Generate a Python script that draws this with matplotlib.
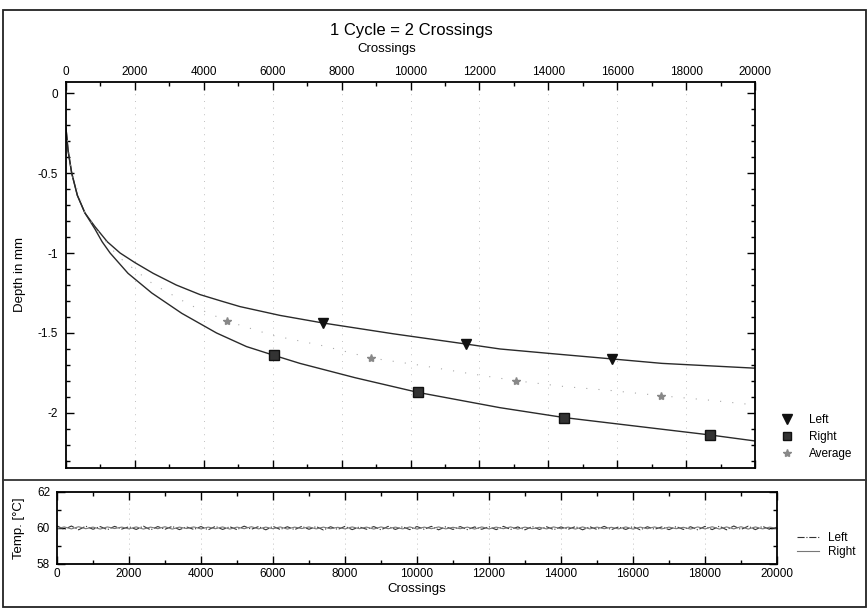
import matplotlib
matplotlib.use("Agg")
import matplotlib.pyplot as plt
from matplotlib.lines import Line2D
from matplotlib.patches import Rectangle
from matplotlib.ticker import MultipleLocator, FuncFormatter

plt.rcParams['font.family'] = ['Liberation Sans', 'DejaVu Sans']
plt.rcParams['axes.unicode_minus'] = False

# ---------------- data ----------------
title_text = "1 Cycle = 2 Crossings"

left_x = [0, 60, 165, 330, 550, 840, 1200, 1570, 2000, 2530, 3200, 3890, 4500,
          5050, 6210, 7460, 9500, 11610, 12600, 14150, 15840, 17300, 20000]
left_y = [-0.22, -0.36, -0.50, -0.64, -0.75, -0.835, -0.93, -1.00, -1.06, -1.127,
          -1.20, -1.26, -1.30, -1.335, -1.39, -1.4375, -1.505, -1.569, -1.60,
          -1.63, -1.662, -1.69, -1.72]

right_x = [0, 60, 165, 330, 550, 840, 1050, 1280, 1800, 2490, 3360, 4370, 5240,
           6040, 6790, 8400, 10230, 12600, 14470, 16260, 18680, 20000]
right_y = [-0.22, -0.36, -0.50, -0.64, -0.75, -0.85, -0.93, -1.00, -1.127, -1.25,
           -1.377, -1.50, -1.585, -1.64, -1.69, -1.78, -1.872, -1.967, -2.029,
           -2.075, -2.137, -2.175]

avg_x = [0, 165, 550, 840, 1500, 2500, 3600, 4665, 6000, 7460, 8845, 10230,
         11610, 13050, 14470, 15840, 17260, 18680, 20000]
avg_y = [-0.22, -0.50, -0.75, -0.84, -1.02, -1.19, -1.325, -1.425, -1.515,
         -1.58, -1.656, -1.70, -1.75, -1.798, -1.835, -1.86, -1.892, -1.92, -1.95]

left_mark_x = [7460, 11610, 15840]
left_mark_y = [-1.4375, -1.569, -1.662]
right_mark_x = [6040, 10230, 14470, 18680]
right_mark_y = [-1.64, -1.872, -2.029, -2.137]
avg_mark_x = [4665, 8845, 13050, 17260]
avg_mark_y = [-1.425, -1.656, -1.798, -1.892]

temp_x = list(range(0, 20001, 200))
temp_left = [60.12, 59.92, 60.11, 59.90, 60.10, 59.93, 60.08, 59.91, 60.09, 59.94,
             60.07, 59.92, 60.10, 59.90, 60.08, 59.93, 60.09, 59.91, 60.06, 59.92,
             60.08, 59.90, 60.09, 59.92, 60.07, 59.91, 60.10, 59.93, 60.08, 59.90,
             60.09, 59.92, 60.07, 59.91, 60.09, 59.93, 60.08, 59.89, 60.07, 59.92,
             60.09, 59.91, 60.06, 59.93, 60.08, 59.90, 60.09, 59.92, 60.07, 59.91,
             60.08, 59.93, 60.09, 59.90, 60.07, 59.92, 60.08, 59.91, 60.06, 59.93,
             60.07, 59.91, 60.09, 59.92, 60.06, 59.90, 60.08, 59.92, 60.07, 59.91,
             60.06, 59.93, 60.08, 59.90, 60.07, 59.92, 60.09, 59.91, 60.06, 59.92,
             60.08, 59.90, 60.07, 59.93, 60.06, 59.91, 60.08, 59.92, 60.07, 59.90,
             60.09, 59.91, 60.10, 59.90, 60.11, 59.92, 60.10, 59.91, 60.09, 59.92,
             60.05]
temp_right = [59.96, 60.06, 59.95, 60.07, 59.96, 60.05, 59.94, 60.06, 59.97, 60.05,
              59.95, 60.06, 59.94, 60.05, 59.96, 60.07, 59.94, 60.05, 59.97, 60.06,
              59.95, 60.05, 59.96, 60.06, 59.94, 60.05, 59.96, 60.07, 59.95, 60.05,
              59.96, 60.06, 59.94, 60.05, 59.97, 60.06, 59.95, 60.05, 59.96, 60.04,
              59.95, 60.06, 59.96, 60.05, 59.94, 60.06, 59.96, 60.05, 59.95, 60.06,
              59.94, 60.05, 59.96, 60.06, 59.95, 60.04, 59.96, 60.05, 59.94, 60.06,
              59.95, 60.05, 59.96, 60.06, 59.94, 60.05, 59.96, 60.04, 59.95, 60.06,
              59.96, 60.05, 59.94, 60.06, 59.95, 60.05, 59.96, 60.04, 59.95, 60.06,
              59.94, 60.05, 59.96, 60.06, 59.95, 60.05, 59.96, 60.04, 59.94, 60.06,
              59.95, 60.07, 59.94, 60.06, 59.95, 60.07, 59.94, 60.06, 59.95, 60.05,
              59.98]

# ---------------- figure ----------------
W, H = 868, 610
fig = plt.figure(figsize=(W / 100, H / 100), dpi=100)


def fx(px):
    return px / W


def fy(py):
    return 1 - py / H


# outer frames
fig.add_artist(Rectangle((fx(3), fy(607)), fx(866) - fx(3), fy(10) - fy(607),
                         transform=fig.transFigure, fill=False, lw=1.3, ec='#222222'))
fig.add_artist(Line2D([fx(3), fx(866)], [fy(480), fy(480)], transform=fig.transFigure,
                      lw=1.3, color='#333333'))

fig.text(fx(411), fy(30), title_text, ha='center', va='center', fontsize=12)

# ---------------- main axes ----------------
ax = fig.add_axes([fx(66), fy(468), fx(755) - fx(66), fy(82) - fy(468)])
ax.plot(left_x, left_y, color='#2a2a2a', lw=1.0)
ax.plot(right_x, right_y, color='#2a2a2a', lw=1.0)
ax.plot(avg_x, avg_y, color='#aaaaaa', lw=0.8, linestyle=(0, (1, 10)))
ax.plot(left_mark_x, left_mark_y, linestyle='none', marker='v', ms=7, color='#111111')
ax.plot(right_mark_x, right_mark_y, linestyle='none', marker='s', ms=7,
        mfc='#333333', mec='#111111')
ax.plot(avg_mark_x, avg_mark_y, linestyle='none', marker='*', ms=6, color='#888888')

ax.set_xlim(0, 20000)
ax.set_ylim(-2.344, 0.069)
ax.xaxis.set_major_locator(MultipleLocator(2000))
ax.xaxis.set_minor_locator(MultipleLocator(1000))
ax.yaxis.set_major_locator(MultipleLocator(0.5))
ax.yaxis.set_minor_locator(MultipleLocator(0.1))
ax.yaxis.set_major_formatter(FuncFormatter(lambda v, p: '%g' % v if abs(v) > 1e-9 else '0'))
ax.tick_params(axis='x', which='both', direction='in', top=True, bottom=True,
               labeltop=True, labelbottom=False, labelsize=8.5, pad=3)
ax.tick_params(axis='y', which='both', direction='in', left=True, right=True,
               labelsize=8.5, pad=6)
ax.tick_params(which='major', length=6, width=1)
ax.tick_params(which='minor', length=3, width=1)
ax.xaxis.set_label_position('top')
ax.set_xlabel('Crossings', fontsize=9.5)
ax.xaxis.set_label_coords(0.466, 1.0 + 30 / 386)
ax.set_ylabel('Depth in mm', fontsize=9.5)
ax.yaxis.set_label_coords(-40 / 689, 0.5)
ax.grid(axis='x', which='major', color='#aaaaaa', lw=0.6, linestyle=(0, (1, 7)))
for s in ax.spines.values():
    s.set_linewidth(1.3)

h_main = [Line2D([], [], linestyle='none', marker='v', ms=7, color='#111111'),
          Line2D([], [], linestyle='none', marker='s', ms=6, mfc='#333333', mec='#111111'),
          Line2D([], [], linestyle='none', marker='*', ms=6, color='#888888')]
fig.legend(h_main, ['Left', 'Right', 'Average'], loc='center left',
           bbox_to_anchor=(fx(781), fy(437)), bbox_transform=fig.transFigure,
           frameon=False, fontsize=8.5, handlelength=1.0, handletextpad=1.4,
           labelspacing=0.45, borderpad=0, borderaxespad=0)

# ---------------- temperature axes ----------------
ax2 = fig.add_axes([fx(57), fy(564), fx(777) - fx(57), fy(492) - fy(564)])
ax2.plot(temp_x, temp_left, color='#333333', lw=0.8, linestyle='-.')
ax2.plot(temp_x, temp_right, color='#777777', lw=0.8)
ax2.set_xlim(0, 20000)
ax2.set_ylim(58, 62)
ax2.xaxis.set_major_locator(MultipleLocator(2000))
ax2.xaxis.set_minor_locator(MultipleLocator(1000))
ax2.yaxis.set_major_locator(MultipleLocator(2))
ax2.yaxis.set_minor_locator(MultipleLocator(1))
ax2.tick_params(which='both', direction='in', top=True, right=True, labelsize=8.5)
ax2.tick_params(axis='x', pad=3)
ax2.tick_params(axis='y', pad=5)
ax2.tick_params(which='major', length=6, width=1)
ax2.tick_params(which='minor', length=3, width=1)
ax2.set_xlabel('Crossings', fontsize=9.5, labelpad=2)
ax2.set_ylabel('Temp. [°C]', fontsize=9.5)
ax2.yaxis.set_label_coords(-32 / 720, 0.5)
ax2.grid(axis='x', which='major', color='#aaaaaa', lw=0.6, linestyle=(0, (1, 5)))
for s in ax2.spines.values():
    s.set_linewidth(1.3)

h_t = [Line2D([], [], color='#333333', lw=0.8, linestyle='-.'),
       Line2D([], [], color='#777777', lw=0.8)]
fig.legend(h_t, ['Left', 'Right'], loc='center left',
           bbox_to_anchor=(fx(797), fy(545)), bbox_transform=fig.transFigure,
           frameon=False, fontsize=8.5, handlelength=1.9, handletextpad=0.7,
           labelspacing=0.15, borderpad=0, borderaxespad=0)

fig.savefig('out.png', dpi=100)
